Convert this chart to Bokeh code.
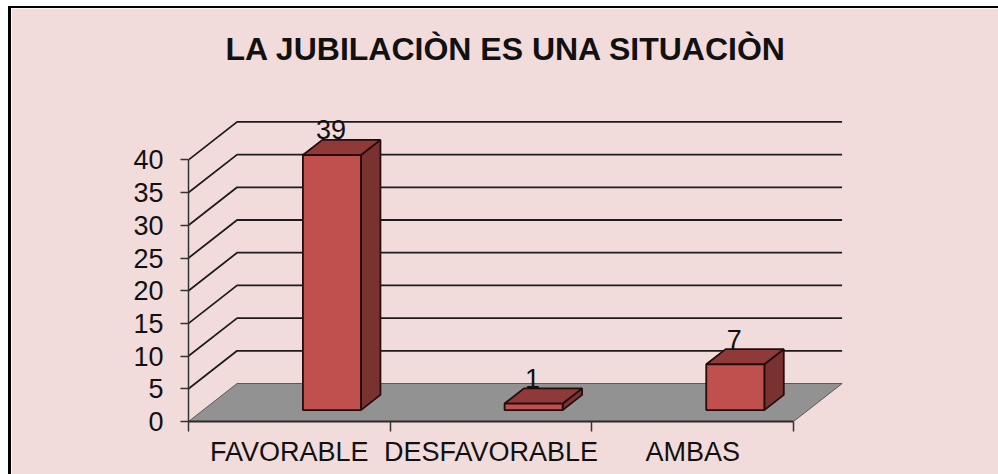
from bokeh.plotting import figure
from bokeh.embed import file_html
from bokeh.resources import INLINE
from bokeh.models import (LinearAxis, FixedTicker, Range1d, Title)
from bokeh.core.properties import value

title_text = "LA JUBILACIÒN ES UNA SITUACIÒN"
categories = ["FAVORABLE", "DESFAVORABLE", "AMBAS"]
values = [39, 1, 7]
y_ticks = [0, 5, 10, 15, 20, 25, 30, 35, 40]

FONT = "Liberation Sans"
BG = "#F2DCDB"
INK = "#1c1c1c"
# oblique projection (in data units)
DX, DY = 0.241, 5.81          # full floor depth
BAR_W = 0.288
BAR_START = 0.495
D0, D1 = 0.30, 0.70           # bar front and back, share of the depth

W, H = 990, 468
L, R, T, B = 177, 155, 67, 55
PX_X = 201.67
PX_Y = 6.54

p = figure(width=W, height=H, output_backend="svg", toolbar_location=None,
           min_border_left=L, min_border_right=R, min_border_top=T, min_border_bottom=B,
           frame_width=W - L - R, frame_height=H - T - B,
           x_range=Range1d(0, (W - L - R) / PX_X), y_range=Range1d(0, (H - T - B) / PX_Y),
           background_fill_color=BG, border_fill_color=BG, x_axis_type=None, y_axis_type=None)
p.margin = (6, 0, 0, 8)
p.styles = {"border-top": "2px solid #000", "border-left": "3px solid #000"}
p.outline_line_color = BG
p.outline_line_width = 2
p.grid.visible = False

t = Title(text=title_text, align="left", offset=37, standoff=17,
          text_font=FONT, text_font_size="32px", text_font_style="bold", text_color="#111111")
p.add_layout(t, "above")

# floor
p.patch([0, DX, 3 + DX, 3], [0, DY, DY, 0], fill_color="#929292", line_color="#5a5a5a", line_width=1)

# wall grid lines
gx, gy = [], []
for v in y_ticks[1:]:
    gx.append([0, DX, 3 + DX])
    gy.append([v, v + DY, v + DY])
p.multi_line(gx, gy, line_color=INK, line_width=1.8)

# bars
for i, v in enumerate(values):
    x0 = i + BAR_START + DX * D0
    x1 = x0 + BAR_W
    y0 = DY * D0
    y1 = y0 + v
    ox = DX * (D1 - D0)
    oy = DY * (D1 - D0)
    p.patch([x1, x1 + ox, x1 + ox, x1], [y0, y0 + oy, y1 + oy, y1],
            fill_color="#7A3230", line_color="#220c0c", line_width=1.8)
    p.patch([x0, x0 + ox, x1 + ox, x1], [y1, y1 + oy, y1 + oy, y1],
            fill_color="#8F3A38", line_color="#220c0c", line_width=1.8)
    p.patch([x0, x1, x1, x0], [y0, y0, y1, y1],
            fill_color="#C0504D", line_color="#220c0c", line_width=1.8)
    p.text([(x0 + x1) / 2], [y1 + oy], text=[str(v)], text_font=value(FONT), text_font_size="27px",
           text_color="#111111", text_align="center", text_baseline="alphabetic",
           x_offset=-1, y_offset=-10)

# axes
ya = LinearAxis(ticker=FixedTicker(ticks=y_ticks), bounds=(0, 40), major_tick_out=8, major_tick_in=0,
                minor_tick_out=0, minor_tick_in=0, major_label_standoff=17,
                major_label_text_font=FONT, major_label_text_font_size="27px", major_label_text_color="#111111",
                axis_line_color="#333333", axis_line_width=1.5, major_tick_line_color="#333333", major_tick_line_width=1.5)
p.add_layout(ya, "left")

xa = LinearAxis(ticker=FixedTicker(ticks=[0.5, 1.5, 2.5], minor_ticks=[0, 1, 2, 3]), bounds=(0, 3),
                major_tick_out=0, major_tick_in=0, minor_tick_out=10, minor_tick_in=0, major_label_standoff=5,
                major_label_overrides={0.5: categories[0], 1.5: categories[1], 2.5: categories[2]},
                major_label_text_font=FONT, major_label_text_font_size="27px", major_label_text_color="#111111",
                axis_line_color="#2a2a2a", axis_line_width=2, minor_tick_line_color="#333333", minor_tick_line_width=1.5)
p.add_layout(xa, "below")

open("out.html", "w").write(file_html(p, INLINE))
